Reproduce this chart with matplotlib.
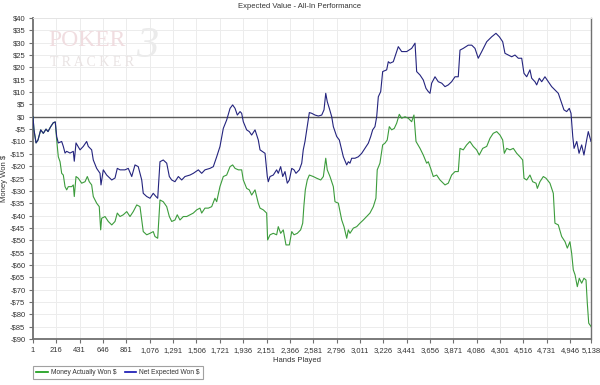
from matplotlib import pyplot as plt
from matplotlib.ticker import FuncFormatter
from matplotlib.lines import Line2D

plt.rcParams['font.family'] = ['Liberation Sans', 'DejaVu Sans']

# net expected won (blue) - hands played vs dollars
ev_hands = [1, 10, 29, 47, 72, 96, 121, 139, 164, 188, 206, 219, 234, 265, 280, 296, 311, 342, 372, 381,
            397, 434, 464, 495, 510, 541, 556, 587, 618, 627, 648, 679, 726, 756, 777, 802, 848, 878, 910, 940,
            970, 1002, 1016, 1048, 1078, 1108, 1133, 1149, 1170, 1200, 1232, 1256, 1278, 1308, 1339, 1370, 1400,
            1446, 1477, 1523, 1554, 1584, 1630, 1661, 1692, 1722, 1753, 1784, 1815, 1839, 1861, 1882, 1907, 1922,
            1937, 1968, 1992, 2014, 2045, 2075, 2091, 2137, 2158, 2167, 2183, 2213, 2244, 2259, 2281, 2300, 2321,
            2342, 2361, 2383, 2404, 2422, 2453, 2475, 2489, 2505, 2526, 2545, 2567, 2597, 2628, 2659, 2680, 2696,
            2710, 2729, 2751, 2766, 2797, 2821, 2843, 2858, 2889, 2904, 2919, 2935, 2965, 2996, 3027, 3057, 3088,
            3110, 3128, 3149, 3165, 3180, 3202, 3220, 3257, 3272, 3288, 3318, 3349, 3364, 3395, 3441, 3487, 3518,
            3533, 3564, 3594, 3619, 3640, 3656, 3671, 3702, 3732, 3764, 3794, 3824, 3855, 3886, 3916, 3932, 3962,
            4008, 4040, 4070, 4100, 4132, 4178, 4224, 4263, 4294, 4325, 4346, 4377, 4408, 4438, 4469, 4500, 4521,
            4546, 4576, 4592, 4622, 4638, 4662, 4684, 4714, 4745, 4776, 4806, 4837, 4868, 4889, 4914, 4938, 4954,
            4970, 4982, 5007, 5028, 5052, 5073, 5098, 5113, 5138]
ev_won = [0, -5.3, -10.6, -9.4, -5.3, -6.7, -5, -6, -4, -2.4, -2.1, -8, -10.6, -10, -12, -14.7, -14, -14.7, -14, -18,
          -10.6, -13.4, -12, -10, -12, -13.4, -17.5, -20.9, -22.9, -27.6, -21.5, -23.6, -25.6, -24.8, -20.9, -21.5,
          -21.5, -20.9, -24.2, -19.5, -20.2, -25.6, -31, -32.3, -33, -31, -32.3, -33, -18.2, -17.5, -18.8, -24.2,
          -25.6, -26.3, -24.2, -25.6, -24.2, -23.6, -22.9, -21.5, -22.9, -21.5, -20.9, -20.2, -16.2, -12.1, -4.7,
          -1.3, 3.4, 4.8, 3.4, 0.7, 2.1, 1.4, -2, -5.3, -6, -7.4, -5.3, -9.4, -13.4, -14.8, -24.2, -26.3, -24.2,
          -23.6, -21.5, -22.9, -20.2, -24.2, -22.2, -26.9, -25.6, -20.9, -21.5, -22.9, -21.5, -18.8, -13.4, -10,
          -4, 1.7, 1.4, 0.7, 0.3, 0.7, 2.8, 9.5, 6.1, 3.4, 0, -4, -8, -9.4, -13.4, -16.2, -19.5, -18.2, -18.8,
          -16.8, -16.8, -16.2, -14.8, -12.8, -10.7, -8, -5.3, -4, 0, 8.1, 10.2, 18.3, 19, 22.3, 21.7, 22.3, 26.4,
          28.4, 26.4, 26.4, 27.7, 29.8, 18.3, 16.9, 14.9, 11.5, 10.2, 9.5, 13.6, 16.2, 14.2, 13.6, 12.2, 12.9,
          14.2, 16.2, 16.2, 27, 27.7, 29, 29, 27.7, 23.7, 26.4, 30.4, 32.4, 33.8, 32.4, 30.4, 25.7, 25, 24.3, 25,
          23.7, 23.7, 17.6, 16.2, 19, 15.6, 14.2, 12.9, 15.6, 14.2, 16.2, 14.2, 12.2, 10.9, 9.5, 5.5, 2.8, 2.1,
          3.4, 1.4, -8, -12.8, -10, -14.8, -11.4, -15.5, -9.4, -6, -10]

# money actually won (green)
won_hands = [1, 10, 29, 47, 72, 96, 121, 139, 164, 188, 206, 219, 234, 250, 265, 280, 296, 311, 326, 357, 372, 381,
             397, 418, 449, 480, 501, 519, 541, 556, 587, 611, 624, 633, 664, 694, 726, 756, 777, 802, 832, 864,
             894, 924, 956, 986, 1002, 1016, 1048, 1078, 1108, 1124, 1149, 1170, 1200, 1232, 1256, 1278, 1308,
             1329, 1354, 1385, 1416, 1446, 1477, 1508, 1538, 1554, 1584, 1615, 1646, 1676, 1692, 1722, 1753, 1784,
             1815, 1839, 1861, 1892, 1922, 1937, 1968, 1992, 2014, 2045, 2075, 2091, 2121, 2152, 2161, 2183, 2213,
             2244, 2259, 2281, 2305, 2330, 2361, 2383, 2404, 2434, 2465, 2484, 2495, 2508, 2526, 2545, 2581, 2613,
             2650, 2674, 2696, 2710, 2735, 2766, 2781, 2812, 2843, 2864, 2889, 2904, 2919, 2950, 2981, 3011, 3042,
             3073, 3103, 3134, 3158, 3170, 3195, 3220, 3241, 3262, 3281, 3303, 3327, 3349, 3373, 3395, 3426, 3456,
             3487, 3508, 3527, 3564, 3594, 3625, 3640, 3662, 3686, 3717, 3748, 3794, 3824, 3855, 3886, 3916, 3932,
             3962, 3993, 4023, 4054, 4085, 4109, 4141, 4178, 4208, 4238, 4270, 4300, 4325, 4340, 4362, 4392, 4423,
             4454, 4484, 4509, 4521, 4546, 4576, 4601, 4632, 4644, 4668, 4699, 4724, 4760, 4791, 4806, 4837, 4868,
             4899, 4920, 4944, 4960, 4975, 4991, 5012, 5030, 5052, 5073, 5092, 5104, 5117, 5138]
money_won = [0, -5.3, -10.6, -9.4, -5.3, -6.7, -5, -6, -4, -2.4, -2.1, -9.4, -16.2, -18.2, -22.9, -23.6, -28.3, -29.6,
             -28.3, -28.3, -27.6, -32.3, -24.2, -24.9, -26.9, -26.3, -24.2, -26.3, -27.6, -32.3, -35, -36.4, -45.8,
             -41.1, -40.4, -42.4, -43.8, -42.4, -39, -40.4, -39.7, -38.4, -40.4, -38.4, -35.7, -36.4, -41.8, -46.5,
             -47.8, -47.2, -46.5, -48.5, -49.2, -33.7, -34.4, -36.4, -40.4, -42.4, -41.8, -39.7, -41.8, -40.4,
             -40.4, -39.7, -39, -37.7, -37, -39, -37, -37, -36.4, -33, -34.4, -28.3, -24.2, -23.6, -20.2, -19.5,
             -20.9, -21.5, -21.5, -25.6, -29, -29.6, -31.7, -29.6, -35, -37, -37.7, -39, -49.9, -47.8, -47.2, -47.8,
             -44.5, -47.2, -45.8, -51.9, -51.9, -46.5, -47.8, -47.2, -45.8, -43.1, -36, -29.6, -25.6, -23.6, -24.2,
             -24.9, -25.6, -24.2, -16.8, -21.5, -24.2, -28.3, -34.4, -35, -41.8, -44.5, -49.2, -45.8, -47.2, -45.1,
             -44.5, -43.1, -41.8, -40.4, -39, -36.4, -33, -21.5, -18.8, -11.4, -10.7, -9.4, -4, -5.3, -4.7, -2.6, 1,
             -0.6, 0, -0.6, -2, 0.7, -10, -12.8, -15.5, -18.8, -18.2, -20.9, -24.2, -23.6, -25.6, -27.6, -26.9,
             -23.6, -22.2, -22.2, -12.8, -13.4, -11.4, -10, -12, -13.4, -15.5, -12.8, -12, -8.7, -6.7, -6, -7.4,
             -9.4, -14.8, -12.8, -13.4, -12.8, -14.8, -16.2, -17.5, -24.9, -25.6, -23.6, -26.3, -26.9, -29, -26.3,
             -24.2, -24.9, -26.9, -31, -43.1, -43.8, -48.5, -50.6, -53.2, -50.6, -55.3, -62, -64, -68.8, -65.4,
             -67.4, -65.4, -66.1, -75.5, -83.6, -84.9]

x_ticks = list(range(1, 4947, 215)) + [5138]
y_ticks = list(range(-90, 41, 5))

green = '#3c9c3c'
blue = '#24247e'
legend_green = '#109a10'
legend_blue = '#1010b0'

fig = plt.figure(figsize=(6, 3.85), dpi=100)
ax = fig.add_axes([33 / 600, 1 - 339 / 385, 558 / 600, 321 / 385])

# faint poker tracker watermark
fig.text(48 / 600, 1 - 40 / 385, 'POKER', fontsize=17, family='Liberation Serif', color='#f0dde0',
         ha='left', va='center', zorder=0)
fig.text(50 / 600, 1 - 62 / 385, 'T R A C K E R', fontsize=10, family='Liberation Serif', color='#e9e3e3',
         ha='left', va='center', zorder=0)
fig.text(136 / 600, 1 - 46 / 385, '3', fontsize=32, family='Liberation Serif', style='italic', color='#ebebeb',
         ha='left', va='center', zorder=0)

ax.patch.set_alpha(0)
ax.plot(won_hands, money_won, color=green, lw=0.8, zorder=3)
ax.plot(ev_hands, ev_won, color=blue, lw=0.8, zorder=4)
ax.axhline(0, color='#5a5a5a', lw=1.0, zorder=2)

ax.set_xlim(1, 5138)
ax.set_ylim(-90, 40)
ax.set_xticks(x_ticks)
ax.set_yticks(y_ticks)
ax.xaxis.set_major_formatter(FuncFormatter(lambda v, p: '{:,}'.format(int(v))))
ax.yaxis.set_major_formatter(FuncFormatter(lambda v, p: '-${}'.format(abs(int(v))) if v < 0 else '${}'.format(int(v))))
ax.grid(True, color='#ececec', lw=0.7, zorder=0)
ax.set_axisbelow(True)
ax.tick_params(direction='out', length=3, width=0.8, color='#707070', labelsize=5.5,
               labelcolor='#333333', pad=2.5)

for side in ['left', 'bottom']:
    ax.spines[side].set_color('#707070')
    ax.spines[side].set_linewidth(1.3)
ax.spines['right'].set_color('#707070')
ax.spines['right'].set_linewidth(1.0)
ax.spines['top'].set_color('#e4e4e4')
ax.spines['top'].set_linewidth(0.7)

ax.set_xlabel('Hands Played', fontsize=5.5, color='#333333')
ax.xaxis.set_label_coords(0.473, -0.056)
ax.set_ylabel('Money Won $', fontsize=5.5, color='#333333')
ax.yaxis.set_label_coords(-0.044, 0.5)

fig.text(0.5, 1 - 7 / 385, 'Expected Value - All-In Performance', fontsize=5.5, color='#333333',
         ha='center', va='center')

handles = [Line2D([], [], color=legend_green, lw=1.2), Line2D([], [], color=legend_blue, lw=1.2)]
leg = fig.legend(handles, ['Money Actually Won $', 'Net Expected Won $'], loc='center left',
                 bbox_to_anchor=(33 / 600, 1 - 372.5 / 385), ncol=2, frameon=True, fancybox=False,
                 fontsize=4.8, handlelength=1.7, handletextpad=0.5, columnspacing=1.2, borderpad=0.5,
                 borderaxespad=0)
leg.get_frame().set_edgecolor('#8a8a8a')
leg.get_frame().set_linewidth(0.8)
for t in leg.get_texts():
    t.set_color('#333333')

plt.savefig('out.png', dpi=100)
